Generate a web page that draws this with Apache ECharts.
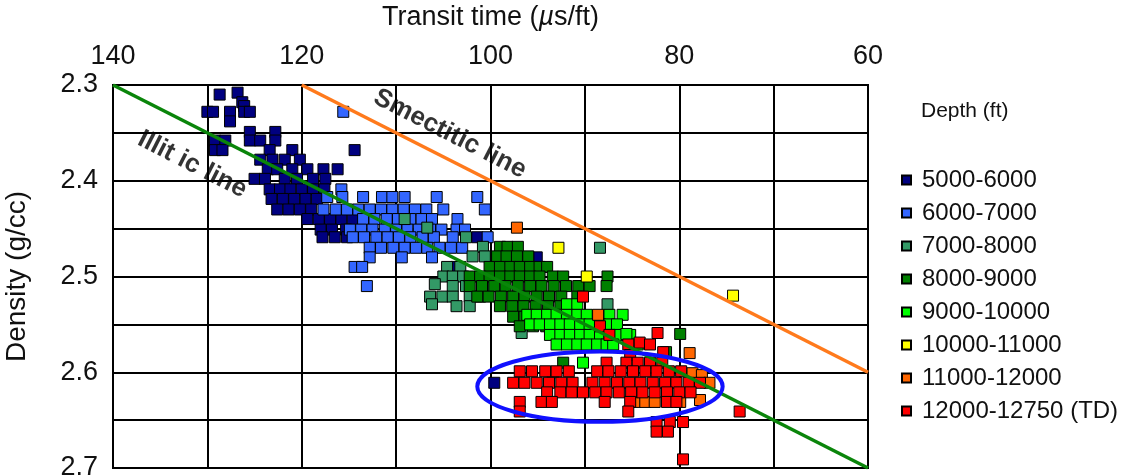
<!DOCTYPE html>
<html>
<head>
<meta charset="utf-8">
<script src="https://cdn.jsdelivr.net/npm/echarts@6/dist/echarts.min.js"></script>
<style>
  html, body { margin: 0; padding: 0; background: #fff; }
  #chart { width: 1131px; height: 475px; }
</style>
</head>
<body>
<div id="chart"></div>
<script>
// Transit time (us/ft) vs bulk density (g/cc), grouped by depth interval
const depthNames = ['5000-6000', '6000-7000', '7000-8000', '8000-9000',
  '9000-10000', '10000-11000', '11000-12000', '12000-12750 (TD)'];
const depthColors = ['#000080', '#3366ff', '#339966', '#008000',
  '#00ff00', '#ffff00', '#ff6600', '#ff0000'];

const depth5000 = [
  [126.8,2.298],[126.8,2.308],[128.7,2.310],[126.3,2.318],[126.1,2.322],
  [130.0,2.328],[129.4,2.328],[127.6,2.328],[126.1,2.328],[125.5,2.328],
  [127.6,2.338],[125.5,2.349],[122.8,2.349],
  [129.2,2.358],[128.1,2.358],[125.5,2.358],[124.4,2.358],[122.8,2.358],
  [129.2,2.368],[128.4,2.368],[123.4,2.368],[121.0,2.368],[114.4,2.368],
  [124.4,2.378],[123.1,2.378],[121.8,2.378],[120.2,2.378],
  [123.6,2.388],[122.6,2.388],[121.0,2.388],[119.4,2.388],[117.7,2.388],[116.2,2.388],
  [125.0,2.398],[123.9,2.398],[121.8,2.398],[120.5,2.398],[118.8,2.398],[117.5,2.398],
  [123.4,2.409],[122.3,2.409],[121.2,2.409],[120.0,2.409],[118.8,2.409],[117.6,2.409],
  [123.2,2.419],[122.0,2.419],[120.8,2.419],[119.6,2.419],[118.4,2.419],
  [122.6,2.430],[121.4,2.430],[120.2,2.430],[119.0,2.430],
  [119.4,2.440],[118.2,2.440],[117.0,2.440],[115.8,2.440],[114.6,2.440],
  [118.0,2.451],[116.8,2.451],[115.3,2.451],
  [117.8,2.459],[116.5,2.459],[115.2,2.459],
  [101.4,2.459],[103.6,2.490],[95.1,2.480],[99.6,2.611]
];
const depth6000 = [
  [115.6,2.328],[115.8,2.409],
  [117.3,2.417],[115.7,2.417],[113.5,2.417],[111.5,2.417],[110.4,2.417],[109.1,2.417],[105.7,2.417],[101.4,2.417],
  [117.7,2.430],[116.4,2.430],[115.2,2.430],[114.0,2.430],[112.8,2.430],[111.6,2.430],[110.4,2.430],[109.2,2.430],[108.0,2.430],[106.8,2.430],[105.0,2.430],[100.6,2.430],
  [113.5,2.440],[112.3,2.440],[111.0,2.440],[109.8,2.440],[108.5,2.440],[107.3,2.440],[106.2,2.440],[103.5,2.440],
  [114.9,2.451],[113.7,2.451],[112.5,2.451],[111.2,2.451],[110.0,2.451],[108.8,2.451],[107.6,2.451],[106.4,2.451],[105.2,2.451],[103.6,2.451],[102.7,2.451],
  [114.6,2.459],[113.4,2.459],[112.1,2.459],[110.9,2.459],[109.7,2.459],[108.5,2.459],[107.2,2.459],[106.0,2.459],[104.0,2.459],[100.3,2.459],
  [112.8,2.470],[111.6,2.470],[110.3,2.470],[109.1,2.470],[107.9,2.470],[106.7,2.470],[105.4,2.470],[104.2,2.470],[103.0,2.470],[98.2,2.470],
  [112.8,2.480],[109.4,2.480],[106.2,2.480],[96.0,2.480],
  [114.4,2.490],[113.6,2.490],[113.1,2.510]
];
const depth7000 = [
  [109.1,2.440],[106.7,2.449],[102.6,2.459],[100.8,2.469],[101.9,2.479],[100.6,2.479],
  [104.6,2.490],[103.2,2.490],[105.0,2.500],[104.0,2.500],[102.9,2.500],[99.0,2.500],
  [105.9,2.508],[104.0,2.510],[102.6,2.510],[100.1,2.510],
  [106.4,2.521],[105.1,2.521],[104.0,2.521],[102.2,2.521],[101.1,2.521],
  [106.2,2.529],[103.6,2.531],[102.2,2.531],
  [88.4,2.470],[90.5,2.510],[87.6,2.529],[96.7,2.559]
];
const depth8000 = [
  [99.0,2.469],[98.2,2.469],[97.1,2.469],
  [99.3,2.479],[98.3,2.479],[97.2,2.479],[96.0,2.479],
  [100.1,2.490],[99.0,2.490],[97.9,2.490],[96.9,2.490],[95.8,2.490],[94.8,2.490],[94.0,2.490],
  [102.2,2.500],[101.1,2.500],[100.1,2.500],[99.0,2.500],[97.9,2.500],[96.9,2.500],[95.8,2.500],[94.8,2.500],[93.4,2.500],[92.3,2.500],[87.6,2.500],
  [102.2,2.510],[100.9,2.510],[99.6,2.510],[98.4,2.510],[97.1,2.510],[95.8,2.510],[94.6,2.510],[93.3,2.510],[92.0,2.510],[90.7,2.510],[89.5,2.510],[87.7,2.510],
  [101.4,2.521],[100.2,2.521],[98.9,2.521],[97.6,2.521],[96.4,2.521],[95.1,2.521],[93.8,2.521],[92.5,2.521],[90.8,2.521],
  [99.0,2.531],[97.7,2.531],[96.5,2.531],[95.2,2.531],[93.9,2.531],[92.6,2.531],
  [97.6,2.542],[96.4,2.542],[95.1,2.542],[93.8,2.542],[92.5,2.542],
  [96.9,2.552],[95.5,2.552],[94.1,2.552],
  [79.9,2.560],[81.4,2.579],[93.4,2.600],[92.3,2.590]
];
const depth9000 = [
  [91.9,2.529],[90.8,2.529],
  [96.1,2.540],[95.1,2.540],[94.0,2.540],[93.0,2.540],[91.9,2.540],[90.8,2.540],[89.8,2.540],[87.4,2.540],[86.0,2.540],
  [95.8,2.550],[94.8,2.550],[93.7,2.550],[92.6,2.550],[91.6,2.550],[90.5,2.550],[89.5,2.550],[88.4,2.550],[87.4,2.550],[86.6,2.550],
  [93.7,2.561],[92.6,2.561],[91.6,2.561],[90.5,2.561],[89.5,2.561],[88.4,2.561],[87.4,2.561],[86.3,2.561],[85.2,2.561],
  [93.0,2.571],[91.9,2.571],[90.8,2.571],[89.8,2.571],[88.7,2.571],[87.7,2.571],[87.0,2.571],[84.4,2.571],
  [90.2,2.590],[85.6,2.560]
];
const depth10000 = [[92.8,2.470],[89.8,2.500],[74.3,2.520]];
const depth11000 = [
  [97.2,2.449],[88.6,2.540],[78.9,2.580],[78.6,2.601],[77.6,2.603],[76.8,2.611],
  [84.7,2.631],[83.6,2.631],[82.6,2.631],[79.9,2.631],[77.8,2.629]
];
const depth12000 = [
  [90.2,2.521],[88.4,2.552],[87.4,2.561],[82.3,2.559],[84.2,2.569],[83.1,2.571],[85.4,2.571],
  [85.2,2.582],[81.7,2.579],
  [87.7,2.590],[85.6,2.590],[84.4,2.590],[83.1,2.590],[81.8,2.590],
  [96.9,2.599],[95.6,2.599],[94.2,2.599],[93.0,2.599],[91.7,2.599],[88.7,2.599],[87.5,2.599],[86.2,2.599],[84.9,2.599],[83.6,2.599],[82.4,2.599],[81.1,2.599],[79.8,2.599],
  [97.6,2.611],[96.4,2.611],[95.1,2.611],[93.8,2.611],[92.5,2.611],[91.3,2.611],[89.2,2.611],[87.9,2.611],[86.6,2.611],[85.3,2.611],[84.1,2.611],[82.8,2.611],[81.5,2.611],[80.3,2.611],[79.0,2.611],[77.8,2.611],
  [94.0,2.621],[92.6,2.621],[91.4,2.621],[90.2,2.621],[88.9,2.621],[87.7,2.621],[86.4,2.621],[85.1,2.621],[83.9,2.621],[82.6,2.621],[81.3,2.621],[80.0,2.621],[78.8,2.621],
  [96.9,2.631],[94.6,2.631],[93.5,2.631],[87.9,2.631],[85.2,2.631],[81.3,2.631],[80.3,2.631],
  [96.9,2.641],[85.4,2.641],[73.6,2.641],
  [82.4,2.652],[81.0,2.652],[79.6,2.652],
  [82.4,2.662],[81.2,2.662],
  [79.6,2.691]
];
const depthData = [depth5000, depth6000, depth7000, depth8000,
  depth9000, depth10000, depth11000, depth12000];

// Reference trend lines (end points in axis units)
const illiticLine = [[140, 2.3], [60, 2.7]];
const smectiticLine = [[120, 2.3], [60, 2.6]];
// Line captions: [x, y, text]
const lineCaptions = [[131.6, 2.383, 'Illit ic line'], [104.3, 2.351, 'Smectitic line']];
// Highlighted deep zone: [centre x, centre y, half width, half height]
const deepZone = [[88.4, 2.615, 13.0, 0.0367]];

const FONT = 'Liberation Sans, Arial, sans-serif';

const chart = echarts.init(document.getElementById('chart'), null, { renderer: 'canvas' });

const scatterSeries = depthNames.map((name, i) => ({
  name: name,
  type: 'scatter',
  data: depthData[i],
  symbol: 'rect',
  symbolSize: 11,
  itemStyle: { color: depthColors[i], borderColor: '#000', borderWidth: 1, opacity: 1 },
  emphasis: { disabled: true },
  z: 3
}));

chart.setOption({
  animation: false,
  backgroundColor: '#fff',
  title: {
    text: 'Depth (ft)',
    left: 916, top: 96,
    textStyle: { fontFamily: FONT, fontSize: 21, fontWeight: 'normal', color: '#111' }
  },
  legend: {
    data: depthNames,
    orient: 'vertical',
    left: 896, top: 163,
    itemWidth: 9, itemHeight: 9,
    itemGap: 9,
    icon: 'rect',
    textStyle: { fontFamily: FONT, fontSize: 24, color: '#111', padding: [0, 0, 0, 6] }
  },
  grid: {
    left: 113, right: 263, top: 85, bottom: 7,
    outerBoundsMode: 'none',
    show: true, borderColor: '#000', borderWidth: 2, backgroundColor: '#fff'
  },
  xAxis: {
    type: 'value',
    position: 'top',
    inverse: true,
    min: 60, max: 140, interval: 10,
    name: '{t|Transit time (}{m|\u00b5}{t|s/ft)}',
    nameLocation: 'middle',
    nameGap: 54,
    nameTextStyle: {
      rich: {
        t: { fontFamily: FONT, fontSize: 27, color: '#111' },
        m: { fontFamily: FONT, fontSize: 27, color: '#111', fontStyle: 'italic' }
      }
    },
    axisLine: { show: true, lineStyle: { color: '#000', width: 2 } },
    axisTick: { show: false },
    axisLabel: {
      margin: 15,
      fontFamily: FONT, fontSize: 27, color: '#111',
      formatter: v => (v % 20 === 0 ? String(v) : '')
    },
    splitLine: { show: true, lineStyle: { color: '#000', width: 2 } }
  },
  yAxis: {
    type: 'value',
    inverse: true,
    min: 2.3, max: 2.7, interval: 0.05,
    name: 'Density (g/cc)',
    nameLocation: 'middle',
    nameGap: 82,
    nameTextStyle: { fontFamily: FONT, fontSize: 28, color: '#111' },
    axisLine: { show: true, lineStyle: { color: '#000', width: 2 } },
    axisTick: { show: false },
    axisLabel: {
      margin: 15,
      fontFamily: FONT, fontSize: 27, color: '#111',
      formatter: v => (Math.round(v * 100) % 10 === 0 ? v.toFixed(1) : '')
    },
    splitLine: { show: true, lineStyle: { color: '#000', width: 2 } }
  },
  series: scatterSeries.concat([
    {
      name: 'Illitic line',
      type: 'line',
      data: illiticLine,
      symbol: 'none',
      lineStyle: { color: '#0a850a', width: 3.5 },
      z: 5, silent: true
    },
    {
      name: 'Smectitic line',
      type: 'line',
      data: smectiticLine,
      symbol: 'none',
      lineStyle: { color: '#ff7a1c', width: 3.5 },
      z: 5, silent: true
    },
    {
      name: 'captions',
      type: 'scatter',
      data: lineCaptions,
      symbolSize: 1,
      itemStyle: { color: 'rgba(0,0,0,0)' },
      silent: true,
      z: 6,
      label: {
        show: true,
        position: 'inside',
        rotate: -27,
        formatter: p => p.data[2],
        fontFamily: FONT, fontSize: 26, fontWeight: 'bold', color: '#000'
      }
    },
    {
      name: 'deep zone',
      type: 'custom',
      data: deepZone,
      silent: true,
      z: 7,
      renderItem: (params, api) => {
        const c = api.coord([api.value(0), api.value(1)]);
        const s = api.size([api.value(2), api.value(3)]);
        return {
          type: 'ellipse',
          shape: { cx: c[0], cy: c[1], rx: s[0], ry: s[1] },
          style: { fill: 'none', stroke: '#1010ff', lineWidth: 4 }
        };
      }
    }
  ])
});
</script>
</body>
</html>
